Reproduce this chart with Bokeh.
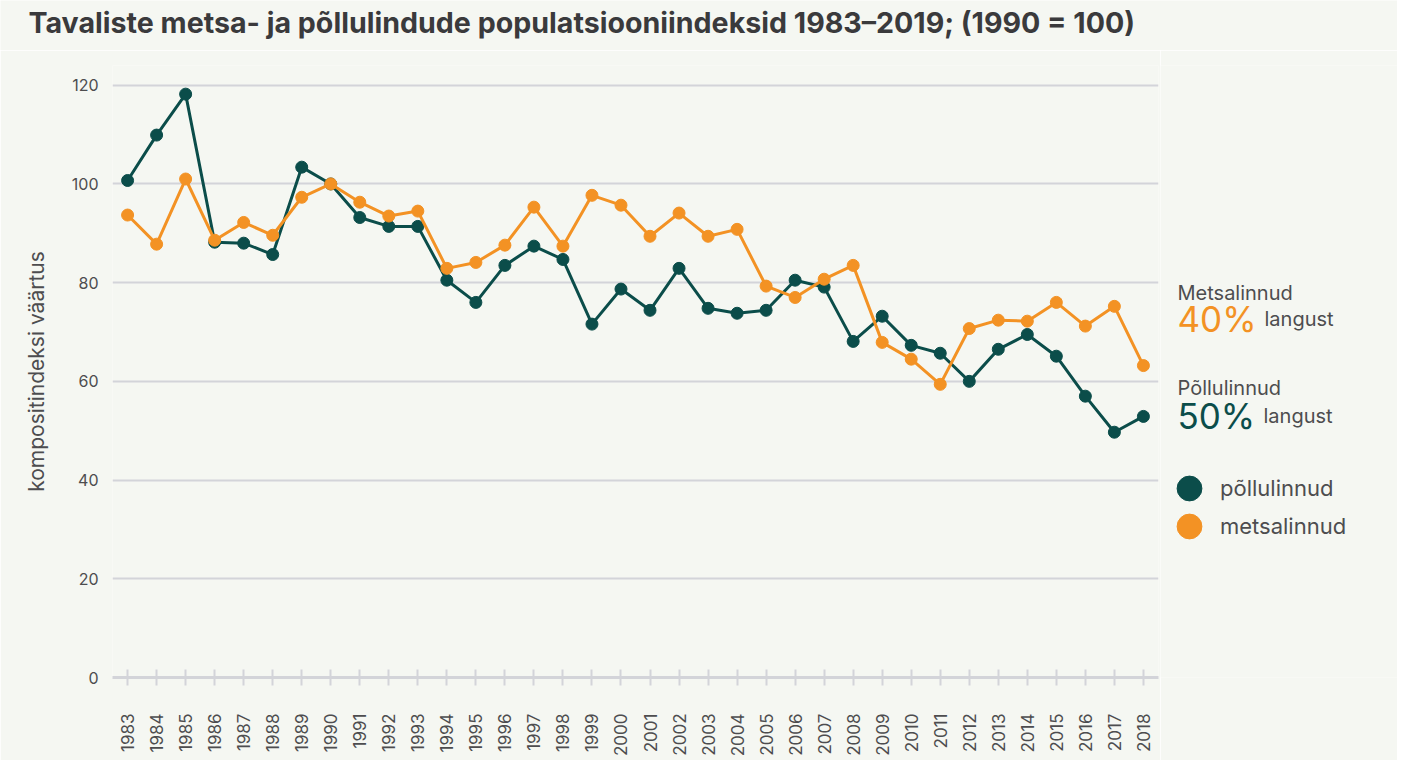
import math
from bokeh.plotting import figure
from bokeh.layouts import row, column
from bokeh.models import (ColumnDataSource, FixedTicker, Label, Legend, LegendItem, Range1d)
from bokeh.embed import file_html
from bokeh.resources import INLINE

years = list(range(1983, 2019))
pollulinnud = [100.7, 109.9, 118.2, 88.2, 88.0, 85.7, 103.4, 100.0, 93.2, 91.4,
               91.4, 80.5, 76.0, 83.5, 87.4, 84.7, 71.6, 78.7, 74.4, 82.9,
               74.8, 73.8, 74.4, 80.5, 79.1, 68.1, 73.2, 67.3, 65.7, 60.0,
               66.5, 69.5, 65.1, 57.0, 49.7, 52.9]
metsalinnud = [93.7, 87.8, 101.0, 88.6, 92.2, 89.6, 97.3, 100.0, 96.3, 93.5,
               94.5, 82.9, 84.1, 87.6, 95.3, 87.4, 97.7, 95.7, 89.4, 94.1,
               89.4, 90.8, 79.3, 77.0, 80.7, 83.5, 67.9, 64.5, 59.4, 70.7,
               72.4, 72.2, 76.0, 71.2, 75.2, 63.2]
y_ticks = [0, 20, 40, 60, 80, 100, 120]
series_names = ["põllulinnud", "metsalinnud"]
title_text = "Tavaliste metsa- ja põllulindude populatsiooniindeksid 1983–2019; (1990 = 100)"

TEAL = "#0b4d4a"
ORANGE = "#f39224"
BG = "#f5f7f2"
GRID = "#d3d4d9"
TXT = "#4d4d4f"
FONT = "Inter"

src = ColumnDataSource(dict(year=years, poll=pollulinnud, mets=metsalinnud))

# title strip
t = figure(width=1397, height=50, output_backend="svg", toolbar_location=None,
           x_range=Range1d(0, 1397), y_range=Range1d(50, 0),
           x_axis_location=None, y_axis_location=None,
           min_border_left=0, min_border_right=0, min_border_top=0, min_border_bottom=0)
t.background_fill_color = BG
t.border_fill_color = BG
t.outline_line_color = None
t.grid.visible = False
t.add_layout(Label(x=28, y=22, text=title_text, text_font=FONT, text_font_size="28.6px",
                   text_font_style="bold", text_color="#3a3a3c", text_baseline="middle"))

p = figure(width=1160, height=710, output_backend="svg", toolbar_location=None,
           x_range=Range1d(1982.48, 2018.52), y_range=Range1d(0, 124),
           min_border_left=112, min_border_right=2, min_border_top=15,
           min_border_bottom=83)
p.background_fill_color = BG
p.border_fill_color = BG
p.outline_line_color = None

p.line("year", "poll", source=src, line_color=TEAL, line_width=3)
p.scatter("year", "poll", source=src, size=12, fill_color=TEAL, line_color=TEAL)
p.line("year", "mets", source=src, line_color=ORANGE, line_width=3)
p.scatter("year", "mets", source=src, size=12, fill_color=ORANGE, line_color=ORANGE)

# axes
p.xaxis.ticker = FixedTicker(ticks=years)
p.xaxis.major_label_orientation = math.pi / 2
p.xaxis.major_label_text_font = FONT
p.xaxis.major_label_text_font_size = "17px"
p.xaxis.major_label_text_color = TXT
p.xaxis.axis_line_color = GRID
p.xaxis.axis_line_width = 3
p.xaxis.major_tick_line_color = GRID
p.xaxis.major_tick_line_width = 2
p.xaxis.major_tick_in = 8
p.xaxis.major_tick_out = 8
p.xaxis.minor_tick_line_color = None
p.xaxis.major_label_standoff = 28

p.yaxis.ticker = FixedTicker(ticks=y_ticks)
p.yaxis.axis_line_color = None
p.yaxis.major_tick_line_color = None
p.yaxis.minor_tick_line_color = None
p.yaxis.major_tick_in = 0
p.yaxis.major_tick_out = 0
p.yaxis.major_label_standoff = 14
p.yaxis.major_label_text_font = FONT
p.yaxis.major_label_text_font_size = "16px"
p.yaxis.major_label_text_color = TXT
p.yaxis.axis_label = "kompositindeksi väärtus"
p.yaxis.axis_label_text_font = FONT
p.yaxis.axis_label_text_font_size = "21px"
p.yaxis.axis_label_text_font_style = "normal"
p.yaxis.axis_label_text_color = TXT
p.yaxis.axis_label_standoff = 20

p.xgrid.grid_line_color = None
p.ygrid.ticker = FixedTicker(ticks=y_ticks)
p.ygrid.grid_line_color = GRID
p.ygrid.grid_line_width = 2

# side panel with annotations and legend
s = figure(width=237, height=710, output_backend="svg", toolbar_location=None,
           x_range=Range1d(0, 237), y_range=Range1d(0, 124),
           x_axis_location=None, y_axis_location=None,
           min_border_left=0, min_border_right=0, min_border_top=15,
           min_border_bottom=83)
s.background_fill_color = BG
s.border_fill_color = BG
s.outline_line_color = None
s.grid.visible = False

def lab(x, y, txt, size, color):
    s.add_layout(Label(x=x, y=y, text=txt, text_font=FONT, text_font_size=size,
                       text_color=color, text_baseline="alphabetic"))

lab(17, 78.0, "Metsalinnud", "20px", TXT)
lab(17, 72.6, "40%", "35px", ORANGE)
lab(104, 72.6, "langust", "20px", TXT)
lab(17, 58.6, "Põllulinnud", "20px", TXT)
lab(17, 53.0, "50%", "35px", TEAL)
lab(103, 53.0, "langust", "20px", TXT)

# legend renderers: same series, outside this panel's visible range
lr_poll = s.scatter("year", "poll", source=src, fill_color=TEAL, line_color=TEAL)
lr_mets = s.scatter("year", "mets", source=src, fill_color=ORANGE, line_color=ORANGE)

def leg(name, r, vy):
    lg = Legend(items=[LegendItem(label=name, renderers=[r], index=0)],
                location=(-2, vy), glyph_width=62, glyph_height=62,
                spacing=0, padding=0, margin=0, label_standoff=0,
                border_line_color=None, background_fill_alpha=0,
                label_text_font=FONT, label_text_font_size="22px",
                label_text_color=TXT)
    s.add_layout(lg, "center")

leg(series_names[0], lr_poll, 158)
leg(series_names[1], lr_mets, 120)

layout = column(t, row(p, s, spacing=0), spacing=0)
open("out.html", "w").write(file_html(layout, INLINE))
